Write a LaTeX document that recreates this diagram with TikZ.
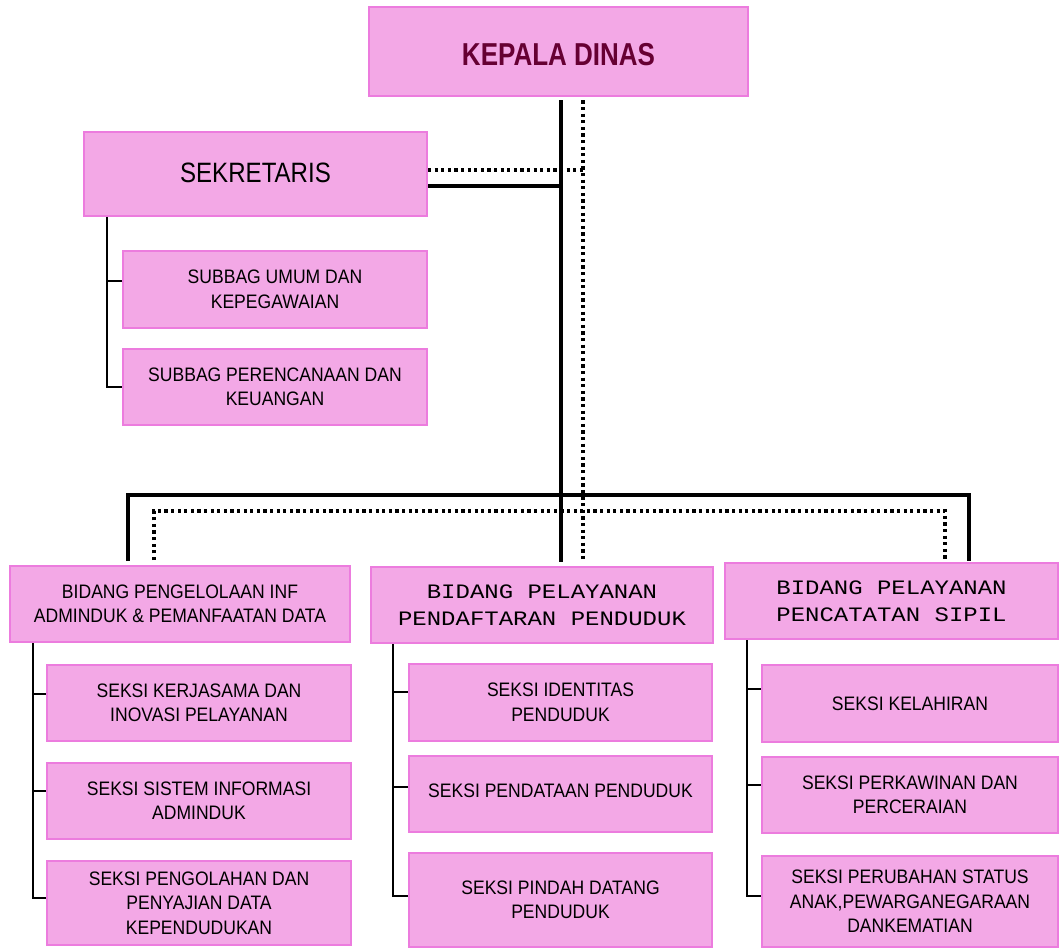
\documentclass[tikz,border=0pt]{standalone}
\usepackage{fontspec}
\setmainfont{Liberation Sans}
\newfontfamily\boxfont[FakeStretch=0.9]{Liberation Sans}
\newfontfamily\headfont[FakeStretch=0.82]{Liberation Sans}
\newfontfamily\sekfont[FakeStretch=0.86]{Liberation Sans}
\newfontfamily\monofont[FakeStretch=1.17]{Liberation Mono}
\definecolor{boxfill}{RGB}{243,168,230}
\definecolor{boxline}{RGB}{236,124,222}
\definecolor{headtext}{RGB}{102,0,51}
\tikzset{
  orgbox/.style={draw=boxline, fill=boxfill, line width=2pt, inner sep=0pt,
    align=center, font=\boxfont\fontsize{19.5}{24.5}\selectfont},
  bidmono/.style={orgbox, font=\monofont\fontsize{20.5}{27}\selectfont},
  solidline/.style={line width=3.6pt, black},
  dotline/.style={line width=3.2pt, black, dash pattern=on 3.2pt off 3.4pt},
  thinline/.style={line width=2.3pt, black},
}
\begin{document}
\begin{tikzpicture}[x=1pt,y=-1pt]
\useasboundingbox (0,0) rectangle (1060,949);

% top level
\node[orgbox, minimum width=379pt, minimum height=89pt,
      font=\headfont\bfseries\fontsize{31.7}{36}\selectfont, text=headtext]
      (kepala) at (558.5,51.5) {\raisebox{-3.5pt}[\height][\depth]{KEPALA DINAS}};
\node[orgbox, minimum width=343pt, minimum height=84pt,
      font=\sekfont\fontsize{28}{30}\selectfont]
      (sek) at (255.5,174) {\raisebox{1.5pt}[\height][\depth]{SEKRETARIS}};
\node[orgbox, minimum width=304pt, minimum height=77pt] (sub1) at (275,289.5)
      {SUBBAG UMUM DAN\\KEPEGAWAIAN};
\node[orgbox, minimum width=304pt, minimum height=76pt] (sub2) at (275,387)
      {SUBBAG PERENCANAAN DAN\\KEUANGAN};

% bidang
\node[orgbox, minimum width=340pt, minimum height=76pt] (b1) at (180,604)
      {BIDANG PENGELOLAAN INF\\ADMINDUK \& PEMANFAATAN DATA};
\node[bidmono, minimum width=342pt, minimum height=76pt] (b2) at (542,605)
      {BIDANG PELAYANAN\\PENDAFTARAN PENDUDUK};
\node[bidmono, minimum width=333pt, minimum height=76pt] (b3) at (891.5,601)
      {BIDANG PELAYANAN\\PENCATATAN SIPIL};

% seksi column 1
\node[orgbox, minimum width=304pt, minimum height=76pt] (c1a) at (199,703)
      {SEKSI KERJASAMA DAN\\INOVASI PELAYANAN};
\node[orgbox, minimum width=304pt, minimum height=76pt] (c1b) at (199,801)
      {SEKSI SISTEM INFORMASI\\ADMINDUK};
\node[orgbox, minimum width=304pt, minimum height=84pt] (c1c) at (199,903)
      {SEKSI PENGOLAHAN DAN\\PENYAJIAN DATA\\KEPENDUDUKAN};

% seksi column 2
\node[orgbox, minimum width=303pt, minimum height=77pt] (c2a) at (560.5,702.5)
      {SEKSI IDENTITAS\\PENDUDUK};
\node[orgbox, minimum width=303pt, minimum height=76pt] (c2b) at (560.5,794)
      {\raisebox{3pt}[\height][\depth]{SEKSI PENDATAAN PENDUDUK}};
\node[orgbox, minimum width=303pt, minimum height=94pt] (c2c) at (560.5,900)
      {SEKSI PINDAH DATANG\\PENDUDUK};

% seksi column 3
\node[orgbox, minimum width=296pt, minimum height=77pt] (c3a) at (910,703.5)
      {SEKSI KELAHIRAN};
\node[orgbox, minimum width=296pt, minimum height=76pt] (c3b) at (910,795)
      {SEKSI PERKAWINAN DAN\\PERCERAIAN};
\node[orgbox, minimum width=296pt, minimum height=91pt] (c3c) at (910,901.5)
      {SEKSI PERUBAHAN STATUS\\ANAK,PEWARGANEGARAAN\\DANKEMATIAN};

% helper coordinates
\coordinate (mx) at (561,0);
\coordinate (dx) at (583,0);
\coordinate (sd) at (0,170);
\coordinate (ss) at (0,186);
\coordinate (bs) at (0,495);
\coordinate (bd) at (0,511);
\coordinate (lsx) at (128,0);
\coordinate (rsx) at (969,0);
\coordinate (ldx) at (154,0);
\coordinate (rdx) at (945,0);

% main lines
\draw[solidline, shorten <=3.5pt, shorten >=4pt] (kepala.south -| mx) -- (b2.north -| mx);
\draw[dotline, shorten <=3.5pt, shorten >=6pt] (kepala.south -| dx) -- (b2.north -| dx);
\draw[solidline] (sek.east |- ss) -- (mx |- ss);
\draw[dotline] (sek.east |- sd) -- (dx |- sd);

% bus lines
\draw[solidline, shorten <=4pt, shorten >=1pt] (b1.north -| lsx) -- (lsx |- bs) -- (rsx |- bs) -- (b3.north -| rsx);
\draw[dotline, shorten <=5pt, shorten >=2pt] (b1.north -| ldx) -- (ldx |- bd) -- (rdx |- bd) -- (b3.north -| rdx);

% sekretaris branch
\coordinate (sx) at (107,0);
\coordinate (ts1) at ([yshift=8.5pt]sub1.west);
\coordinate (ts2) at (sub2.west);
\draw[thinline] (sek.south -| sx) -- (sx |- ts2) -- (ts2);
\draw[thinline] (sx |- ts1) -- (ts1);

% column 1 branch
\coordinate (c1x) at (33,0);
\coordinate (t1a) at ([yshift=9pt]c1a.west);
\coordinate (t1b) at ([yshift=10pt]c1b.west);
\coordinate (t1c) at ([yshift=5pt]c1c.west);
\draw[thinline] (b1.south -| c1x) -- (c1x |- t1c) -- (t1c);
\draw[thinline] (c1x |- t1a) -- (t1a);
\draw[thinline] (c1x |- t1b) -- (t1b);

% column 2 branch
\coordinate (c2x) at (393,0);
\coordinate (t2a) at ([yshift=10.5pt]c2a.west);
\coordinate (t2b) at ([yshift=7pt]c2b.west);
\coordinate (t2c) at ([yshift=4pt]c2c.west);
\draw[thinline] (b2.south -| c2x) -- (c2x |- t2c) -- (t2c);
\draw[thinline] (c2x |- t2a) -- (t2a);
\draw[thinline] (c2x |- t2b) -- (t2b);

% column 3 branch
\coordinate (c3x) at (747,0);
\coordinate (t3a) at ([yshift=14.5pt]c3a.west);
\coordinate (t3b) at ([yshift=10pt]c3b.west);
\coordinate (t3c) at ([yshift=5.5pt]c3c.west);
\draw[thinline] (b3.south -| c3x) -- (c3x |- t3c) -- (t3c);
\draw[thinline] (c3x |- t3a) -- (t3a);
\draw[thinline] (c3x |- t3b) -- (t3b);
\end{tikzpicture}
\end{document}
